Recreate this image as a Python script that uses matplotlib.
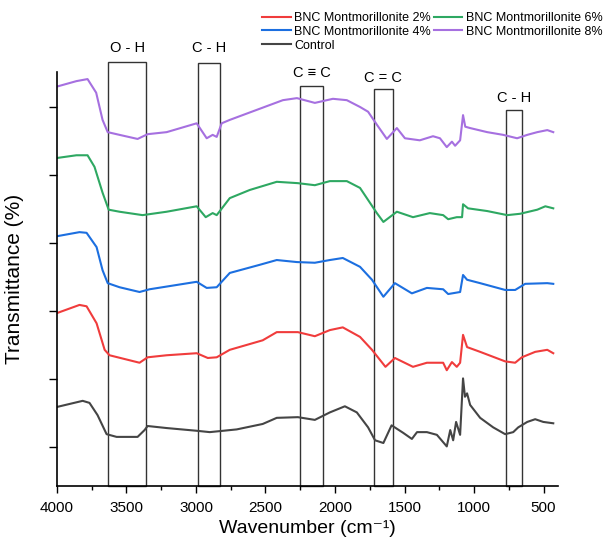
import matplotlib.pyplot as plt
from matplotlib.patches import Rectangle

plt.rcParams['font.family'] = ['Liberation Sans', 'DejaVu Sans']

# Spectra (offset, arbitrary units; tick spacing = 1)
wn_control = [4000, 3815, 3766, 3708, 3643, 3571, 3420, 3370, 3348, 3211, 2995, 2901, 2707, 2520,
              2419, 2267, 2145, 2037, 1929, 1843, 1762, 1712, 1652, 1593, 1510, 1447, 1410, 1339,
              1267, 1196, 1171, 1150, 1129, 1100, 1079, 1065, 1050, 1028, 956, 862, 776, 718, 682,
              617, 560, 502, 430]
t_control = [0.59, 0.68, 0.65, 0.47, 0.19, 0.15, 0.15, 0.25, 0.31, 0.28, 0.24, 0.22, 0.26, 0.34,
             0.43, 0.44, 0.40, 0.51, 0.60, 0.51, 0.29, 0.10, 0.06, 0.32, 0.21, 0.12, 0.22, 0.22,
             0.18, 0.01, 0.25, 0.10, 0.37, 0.18, 1.01, 0.74, 0.79, 0.62, 0.43, 0.29, 0.19, 0.22, 0.29,
             0.37, 0.41, 0.37, 0.35]

wn_2 = [4000, 3838, 3787, 3715, 3657, 3622, 3406, 3348, 3211, 2995, 2915, 2851, 2757, 2520, 2419,
        2267, 2145, 2037, 1944, 1820, 1734, 1637, 1569, 1439, 1339, 1222, 1196, 1159, 1124, 1100,
        1079, 1050, 956, 776, 704, 656, 560, 473, 430]
t_2 = [1.97, 2.09, 2.07, 1.82, 1.43, 1.35, 1.24, 1.32, 1.35, 1.38, 1.31, 1.32, 1.43, 1.57, 1.69,
       1.69, 1.63, 1.72, 1.76, 1.62, 1.43, 1.18, 1.31, 1.18, 1.24, 1.24, 1.13, 1.25, 1.18, 1.24,
       1.65, 1.47, 1.40, 1.26, 1.24, 1.32, 1.40, 1.43, 1.38]

wn_4 = [4000, 3838, 3787, 3715, 3672, 3635, 3550, 3406, 3334, 2995, 2923, 2851, 2757, 2541, 2419,
        2274, 2145, 2037, 1944, 1820, 1734, 1652, 1569, 1447, 1339, 1222, 1186, 1100, 1079, 1050,
        956, 776, 704, 632, 473, 430]
t_4 = [3.10, 3.16, 3.15, 2.94, 2.60, 2.41, 2.35, 2.28, 2.32, 2.43, 2.34, 2.35, 2.56, 2.68, 2.75,
       2.72, 2.71, 2.75, 2.78, 2.65, 2.46, 2.21, 2.41, 2.26, 2.34, 2.32, 2.25, 2.28, 2.53, 2.46,
       2.41, 2.31, 2.31, 2.40, 2.41, 2.40]

wn_6 = [4000, 3860, 3780, 3730, 3672, 3628, 3550, 3384, 3211, 2995, 2930, 2880, 2851, 2757, 2613,
        2419, 2267, 2145, 2037, 1915, 1820, 1748, 1699, 1652, 1555, 1439, 1318, 1222, 1186, 1124,
        1086, 1079, 1043, 905, 761, 668, 545, 487, 430]
t_6 = [4.25, 4.29, 4.29, 4.12, 3.74, 3.49, 3.46, 3.41, 3.46, 3.54, 3.38, 3.44, 3.41, 3.66, 3.78,
       3.90, 3.88, 3.85, 3.91, 3.91, 3.81, 3.59, 3.44, 3.31, 3.46, 3.38, 3.44, 3.41, 3.35, 3.38,
       3.38, 3.57, 3.51, 3.47, 3.41, 3.43, 3.49, 3.54, 3.51]

wn_8 = [4000, 3860, 3780, 3718, 3672, 3635, 3550, 3420, 3348, 3211, 2995, 2923, 2880, 2851, 2815,
        2757, 2520, 2375, 2274, 2145, 2015, 1915, 1820, 1762, 1699, 1627, 1555, 1497, 1390, 1295,
        1245, 1196, 1159, 1136, 1100, 1079, 1063, 1028, 905, 790, 690, 617, 545, 473, 430]
t_8 = [5.30, 5.38, 5.41, 5.21, 4.81, 4.63, 4.59, 4.53, 4.60, 4.63, 4.76, 4.54, 4.59, 4.56, 4.76,
       4.81, 4.99, 5.10, 5.13, 5.06, 5.12, 5.10, 5.00, 4.93, 4.74, 4.53, 4.69, 4.54, 4.51, 4.57,
       4.54, 4.41, 4.49, 4.43, 4.51, 4.88, 4.71, 4.69, 4.63, 4.59, 4.54, 4.59, 4.63, 4.66, 4.63]

# assigned bands: (label, high wn, low wn, box top, label y)
bands = [("O - H", 3630, 3360, 5.66, 5.87),
         ("C - H", 2985, 2825, 5.65, 5.87),
         ("C \u2261 C", 2254, 2083, 5.31, 5.50),
         ("C = C", 1722, 1582, 5.26, 5.43),
         ("C - H", 770, 658, 4.96, 5.13)]

fig = plt.figure(figsize=(6.06, 5.45), dpi=100)
ax = fig.add_axes([0.094, 0.108, 0.827, 0.76])

ymin = -0.574
l2, = ax.plot(wn_2, t_2, color='#f03c3c', lw=1.5, label='BNC Montmorillonite 2%')
l4, = ax.plot(wn_4, t_4, color='#1c6fe0', lw=1.5, label='BNC Montmorillonite 4%')
lc, = ax.plot(wn_control, t_control, color='#454545', lw=1.5, label='Control')
l6, = ax.plot(wn_6, t_6, color='#2ea862', lw=1.5, label='BNC Montmorillonite 6%')
l8, = ax.plot(wn_8, t_8, color='#a670e0', lw=1.5, label='BNC Montmorillonite 8%')

for name, hi, lo, top, ty in bands:
    ax.add_patch(Rectangle((lo, ymin), hi - lo, top - ymin, fill=False,
                           edgecolor='#333333', lw=1.0, clip_on=False, zorder=1))
    ax.text((hi + lo) / 2, ty, name, ha='center', va='center', fontsize=10.5, clip_on=False)

ax.set_xlim(4000, 395)
ax.set_ylim(ymin, 5.515)
ax.set_xticks([4000, 3500, 3000, 2500, 2000, 1500, 1000, 500])
ax.set_xticks([3750, 3250, 2750, 2250, 1750, 1250, 750], minor=True)
ax.set_yticks([0, 1, 2, 3, 4, 5])
ax.set_yticklabels([])
ax.tick_params(axis='x', which='major', direction='out', length=5, width=1, labelsize=11, pad=6)
ax.tick_params(axis='x', which='minor', direction='out', length=3, width=1)
ax.tick_params(axis='y', direction='out', length=6, width=1)
for s in ['top', 'right']:
    ax.spines[s].set_visible(False)
for s in ['left', 'bottom']:
    ax.spines[s].set_linewidth(1.2)

ax.set_xlabel('Wavenumber (cm\u207b\u00b9)', fontsize=14, labelpad=3)
ax.set_ylabel('Transmittance (%)', fontsize=15, labelpad=14)

fig.legend(handles=[l2, l4, lc, l6, l8], ncol=2, loc='upper left',
           bbox_to_anchor=(0.432, 0.978), frameon=False, fontsize=9,
           borderpad=0, borderaxespad=0, handlelength=2.3, handletextpad=0.3,
           columnspacing=0.2, labelspacing=0.15)

plt.savefig('out.png', dpi=100)
